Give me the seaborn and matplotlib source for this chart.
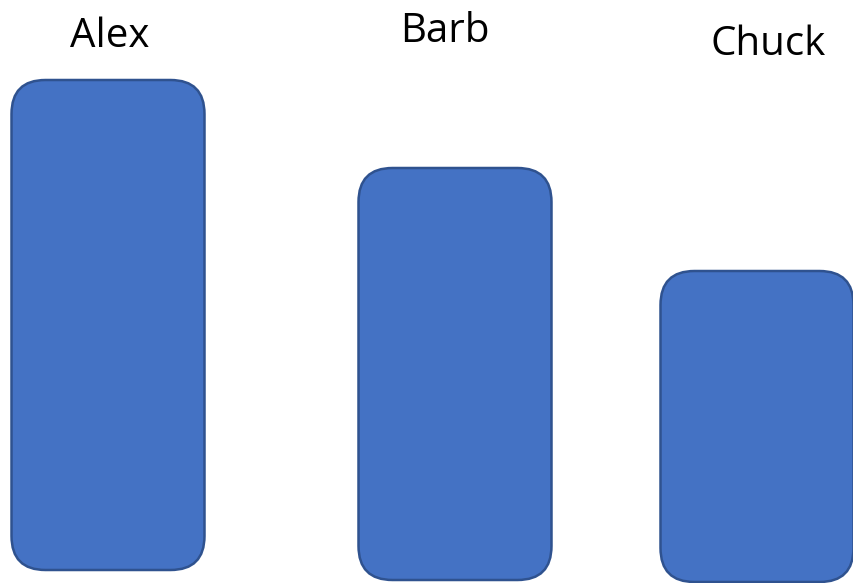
import matplotlib
matplotlib.use("Agg")
import matplotlib.pyplot as plt
from matplotlib.patches import FancyBboxPatch
import seaborn as sns
import pandas as pd

# data
names = ["Alex", "Barb", "Chuck"]
values = [490, 412, 311]

# layout (pixels)
centers = [108, 455, 757]
bar_width = 193
base_shift = [10, 0, -2]
label_x = [110, 445, 768]
label_baseline = [47, 42, 55]

sns.set_theme(style="white")
plt.rcParams['font.family'] = ['Open Sans', 'DejaVu Sans']

df = pd.DataFrame({"name": names, "value": values, "pos": centers})

fig = plt.figure(figsize=(8.54, 5.83), dpi=100)
ax = fig.add_axes([0, 0, 1, 1])
# with native_scale seaborn scales width by the smallest gap between positions
min_gap = min(b - a for a, b in zip(centers[:-1], centers[1:]))
sns.barplot(data=df, x="pos", y="value", native_scale=True, width=bar_width / min_gap,
            color="#4472C4", ax=ax)
ax.set_xlim(0, 854)
ax.set_ylim(-3, 580)

# swap plain bars for rounded ones
bars = list(ax.patches)
for rect, shift in zip(bars, base_shift):
    x, y = rect.get_x(), rect.get_y()
    w, h = rect.get_width(), rect.get_height()
    rect.remove()
    ax.add_patch(FancyBboxPatch((x, y + shift), w, h, boxstyle="round,pad=0,rounding_size=34",
                                mutation_aspect=1, facecolor="#4472C4",
                                edgecolor="#2F528F", linewidth=1.8))

for name, lx, lb in zip(names, label_x, label_baseline):
    ax.text(lx, 580 - lb, name, ha="center", va="baseline", fontsize=29, color="black")

ax.axis("off")
fig.savefig("out.png", dpi=100)
